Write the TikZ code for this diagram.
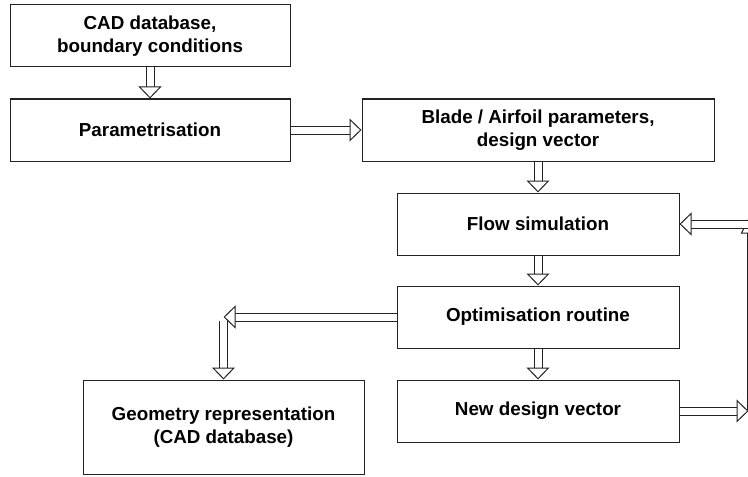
\documentclass[tikz,border=0pt]{standalone}
\usepackage{fontspec}
\setmainfont{Liberation Sans}
\usepackage{tikz}
\usetikzlibrary{arrows.meta,positioning}
\definecolor{frame}{HTML}{222222}
\tikzset{
  box/.style={draw=frame,line width=.5pt,minimum height=31pt,align=center,
              font=\fontsize{9.4}{11.5}\selectfont\bfseries,inner sep=2pt},
  hollow/.style={draw=frame,line width=.5pt,double=white,double distance=3.5pt,
                 -{Triangle[open,fill=white,width=11.5pt,length=6pt]}},
}

\begin{document}
\begin{tikzpicture}[node distance=15.5pt and 35.5pt]
  \useasboundingbox (0,0) rectangle (374pt,-238pt);
  \node[box,minimum width=140pt] (cad) at (75pt,-18pt) {CAD database,\\boundary conditions};
  \node[box,minimum width=140pt,below=of cad] (param) {Parametrisation};
  \node[box,minimum width=176pt,right=of param] (blade) {Blade / Airfoil parameters,\\design vector};
  \node[box,minimum width=141pt,below=15.5pt of blade] (flow) {Flow simulation};
  \node[box,minimum width=141pt,below=15pt of flow] (opt) {Optimisation routine};
  \node[box,minimum width=141pt,below=15.5pt of opt] (new) {New design vector};
  \node[box,minimum width=140.5pt,minimum height=47pt,left=16pt of new.north west,anchor=north east] (geom)
      {Geometry representation\\(CAD database)};
  \coordinate (split) at (geom.north |- opt.west);
  \coordinate (loopb) at ([xshift=34.5pt]new.east);
  \coordinate (loopt) at ([xshift=34pt]flow.east);
  \draw[hollow] (cad)--(param);
  \draw[hollow] (param)--(blade);
  \draw[hollow] (blade)--(flow);
  \draw[hollow] (flow)--(opt);
  \draw[hollow] (opt)--(new);
  \draw[hollow] (opt.west)--(split);
  \draw[hollow] ([yshift=-2pt]split)--(geom.north);
  \draw[hollow] (new.east)--(loopb);
  % return line with the notch at its upper end
  \draw[draw=frame,line width=.5pt] ([xshift=-.5pt,yshift=.5pt]loopb)--([yshift=-4.5pt]loopt)
      --([xshift=-3pt,yshift=-4.5pt]loopt)--([xshift=.5pt,yshift=2.25pt]loopt);
  \draw[hollow] (loopt)--(flow.east);
\end{tikzpicture}
\end{document}
